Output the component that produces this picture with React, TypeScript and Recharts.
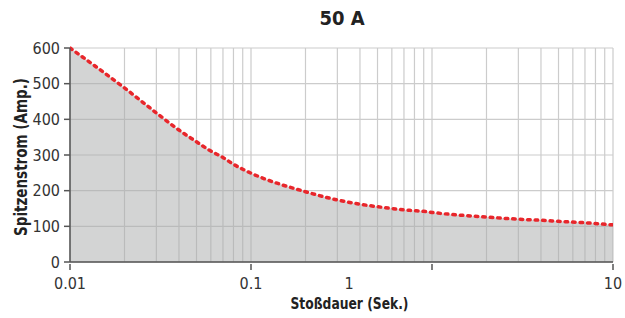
import {
  AreaChart,
  Area,
  XAxis,
  YAxis,
  CartesianGrid,
} from "recharts";

// Stoßdauer (s) vs. Spitzenstrom (A)
const times = [0.01, 0.02, 0.03, 0.04, 0.05, 0.06, 0.07, 0.08, 0.09, 0.1, 0.2, 0.3, 0.4, 0.5, 0.6, 0.7, 0.8, 0.9, 1, 2, 3, 4, 5, 7, 10];
const amps = [600, 488, 418, 370, 337, 311, 293, 274, 260, 249, 197, 174, 162, 155, 150, 146, 144, 142, 139, 126, 120, 117, 114, 110, 104];

const xGridTicks = [
  0.01, 0.02, 0.03, 0.04, 0.05, 0.06, 0.07, 0.08, 0.09,
  0.1, 0.2, 0.3, 0.4, 0.5, 0.6, 0.7, 0.8, 0.9,
  1, 2, 3, 4, 5, 6, 7, 8, 9, 10,
];
const xLabels = ["0.01", "0.1", "1", "10"];
const yTicks = [0, 100, 200, 300, 400, 500, 600];

const data = times.map((t, i) => ({ t, a: amps[i] }));

const FONT = "'DejaVu Sans Condensed', 'Liberation Sans Narrow', 'Liberation Sans', sans-serif";

interface TickProps {
  x?: number;
  y?: number;
  payload?: { value: number };
}

interface LabelProps {
  viewBox?: { x: number; y: number; width: number; height: number };
}

const XTick = ({ x = 0, y = 0, payload }: TickProps) => {
  const v = payload ? payload.value : 0;
  const label = xLabels.find((l) => Number(l) === v);
  if (!label) return null;
  // the original puts the "1" label left of its tick
  const dx = label === "1" ? -83 : 0;
  return (
    <g>
      <line x1={x} x2={x} y1={y - 6} y2={y} stroke="#555" strokeWidth={1.5} />
      <text
        x={x + dx}
        y={y + 19}
        textAnchor="middle"
        fill="#333"
        fontSize={16}
        fontFamily={FONT}
      >
        {label}
      </text>
    </g>
  );
};

const XLabel = ({ viewBox }: LabelProps) => {
  if (!viewBox) return null;
  return (
    <text
      x={viewBox.x + viewBox.width / 2 + 8}
      y={viewBox.y + 47}
      textAnchor="middle"
      fill="#222"
      fontSize={16}
      fontWeight="bold"
      fontFamily={FONT}
      textLength={118}
      lengthAdjust="spacingAndGlyphs"
    >
      Stoßdauer (Sek.)
    </text>
  );
};

const YLabel = ({ viewBox }: LabelProps) => {
  if (!viewBox) return null;
  const cx = viewBox.x + 13;
  const cy = viewBox.y + viewBox.height / 2 + 2;
  return (
    <text
      x={cx}
      y={cy}
      transform={`rotate(-90 ${cx} ${cy})`}
      textAnchor="middle"
      dominantBaseline="central"
      fill="#222"
      fontSize={17}
      fontWeight="bold"
      fontFamily={FONT}
      textLength={158}
      lengthAdjust="spacingAndGlyphs"
    >
      Spitzenstrom (Amp.)
    </text>
  );
};

const App = () => {
  return (
    <div style={{ position: "absolute", left: 0, top: 0, width: 625, height: 318, background: "#fff" }}>
      <div
        style={{
          position: "absolute",
          top: 6,
          left: 0,
          width: 684,
          textAlign: "center",
          fontFamily: FONT,
          fontWeight: "bold",
          fontSize: 20,
          color: "#222",
        }}
      >
        50 A
      </div>
      <AreaChart
        width={625}
        height={318}
        data={data}
        margin={{ top: 48, right: 12, bottom: 0, left: 8 }}
        style={{ overflow: "visible" }}
      >
        <CartesianGrid stroke="#cccccc" strokeWidth={1.2} />
        <XAxis
          dataKey="t"
          type="number"
          scale="log"
          domain={[0.01, 10]}
          ticks={xGridTicks}
          interval={0}
          allowDataOverflow
          tickLine={false}
          tick={<XTick />}
          height={56}
          stroke="#555"
          strokeWidth={1.5}
          label={<XLabel />}
        />
        <YAxis
          type="number"
          domain={[0, 600]}
          ticks={yTicks}
          interval={0}
          width={62}
          stroke="#555"
          strokeWidth={1.5}
          tickSize={6}
          tickMargin={4}
          tick={{ fill: "#333", fontSize: 16, fontFamily: FONT }}
          label={<YLabel />}
        />
        <Area
          type="monotone"
          dataKey="a"
          stroke="#e8262b"
          strokeWidth={3.5}
          strokeDasharray="2.5 5"
          strokeLinecap="round"
          fill="#a8aaaa"
          fillOpacity={0.5}
          isAnimationActive={false}
          dot={false}
          activeDot={false}
        />
      </AreaChart>
    </div>
  );
};

export default App;
